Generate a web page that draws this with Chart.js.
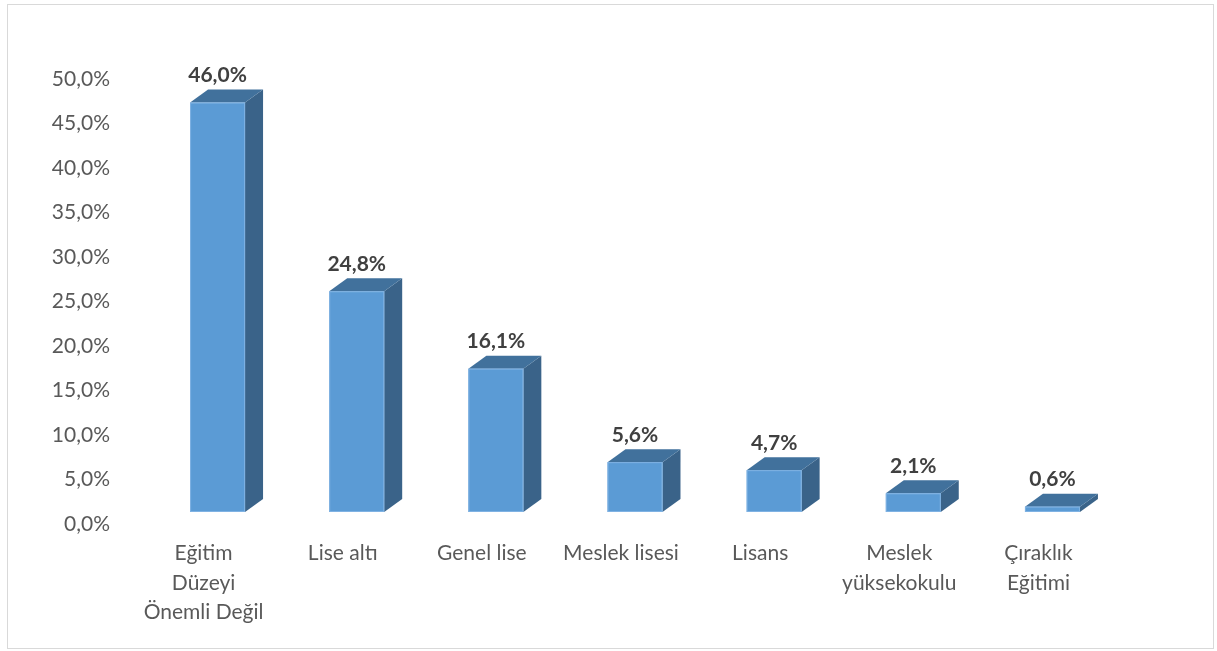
<!DOCTYPE html>
<html>
<head>
<meta charset="utf-8">
<script src="https://cdn.jsdelivr.net/npm/chart.js@4"></script>
<style>
    body { margin: 0; background: #fff; }
    #frame { position: absolute; left: 7px; top: 4px; width: 1205px; height: 643px; border: 1px solid #d9d9d9; }
    #wrap { position: absolute; left: 0; top: 0; width: 1217px; height: 651px; }
</style>
</head>
<body>
<div id="frame"></div>
<div id="wrap"><canvas id="egitim" width="1217" height="651"></canvas></div>
<script>
const categories = [
    ['Eğitim', 'Düzeyi', 'Önemli Değil'],
    'Lise altı',
    'Genel lise',
    'Meslek lisesi',
    'Lisans',
    ['Meslek', 'yüksekokulu'],
    ['Çıraklık', 'Eğitimi']
];
const values = [46.0, 24.8, 16.1, 5.6, 4.7, 2.1, 0.6];
const yMin = 0;
const yMax = 50;
const yStep = 5;

function fmt(v) {
    return v.toFixed(1).replace('.', ',') + '%';
}

// bar 3D: front face sits a bit above the axis floor, depth goes up-right
const bars3d = {
    id: 'bars3d',
    afterDatasetsDraw(chart) {
        const ctx = chart.ctx;
        const meta = chart.getDatasetMeta(0);
        const lift = 12, dx = 18, dy = 13;
        ctx.save();
        meta.data.forEach((bar, i) => {
            const left = bar.x - bar.width / 2;
            const right = bar.x + bar.width / 2;
            const top = bar.y - lift;
            const bottom = bar.base - lift;

            // side
            ctx.fillStyle = '#3a6389';
            ctx.beginPath();
            ctx.moveTo(right, top);
            ctx.lineTo(right + dx, top - dy);
            ctx.lineTo(right + dx, bottom - dy);
            ctx.lineTo(right, bottom);
            ctx.closePath();
            ctx.fill();

            // top
            ctx.fillStyle = '#41719c';
            ctx.beginPath();
            ctx.moveTo(left, top);
            ctx.lineTo(left + dx, top - dy);
            ctx.lineTo(right + dx, top - dy);
            ctx.lineTo(right, top);
            ctx.closePath();
            ctx.fill();

            // front
            ctx.fillStyle = '#5b9bd5';
            ctx.fillRect(left, top, right - left, bottom - top);
            ctx.strokeStyle = '#7fb2e3';
            ctx.lineWidth = 1;
            ctx.strokeRect(left + 0.5, top + 0.5, right - left - 1, bottom - top - 1);

            // value label
            ctx.fillStyle = '#404040';
            ctx.font = 'bold 21px Lato';
            ctx.textAlign = 'center';
            ctx.textBaseline = 'middle';
            ctx.fillText(fmt(values[i]), bar.x, top - 27);
        });
        ctx.restore();
    }
};

const ctx = document.getElementById('egitim').getContext('2d');
new Chart(ctx, {
    type: 'bar',
    data: {
        labels: categories,
        datasets: [
            {
                data: values,
                backgroundColor: 'rgba(0,0,0,0)',
                borderWidth: 0,
                barPercentage: 0.395,
                categoryPercentage: 1
            }
        ]
    },
    options: {
        responsive: false,
        animation: false,
        layout: {
            padding: { top: 79, right: 95, bottom: 0, left: 0 }
        },
        plugins: {
            legend: { display: false },
            tooltip: { enabled: false }
        },
        scales: {
            y: {
                min: yMin,
                max: yMax,
                afterFit(scale) { scale.width = 148; },
                ticks: {
                    stepSize: yStep,
                    padding: 38,
                    color: '#595959',
                    font: { family: 'Lato', size: 21 },
                    callback: (v) => fmt(v)
                },
                grid: { display: false, drawTicks: false },
                border: { display: false }
            },
            x: {
                afterFit(scale) { scale.height = 127; },
                ticks: {
                    padding: 15,
                    labelOffset: -14,
                    maxRotation: 0,
                    autoSkip: false,
                    color: '#595959',
                    font: { family: 'Lato', size: 21, lineHeight: 1.4 }
                },
                grid: { display: false, drawTicks: false },
                border: { display: false }
            }
        }
    },
    plugins: [bars3d]
});
</script>
</body>
</html>
